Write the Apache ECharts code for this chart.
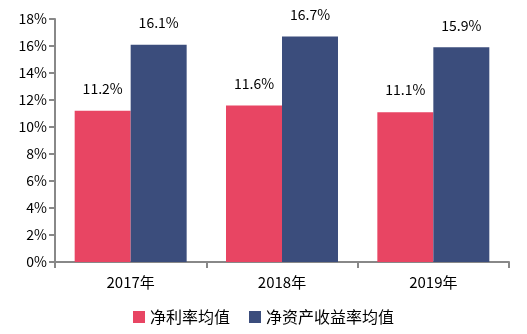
<!DOCTYPE html>
<html><head><meta charset="utf-8">
<script src="https://cdn.jsdelivr.net/npm/echarts@6/dist/echarts.min.js"></script>
<style>html,body{margin:0;padding:0;background:#fff}#c{width:527px;height:334px}</style>
</head><body><div id="c"></div>
<script>
var categories = ['2017年', '2018年', '2019年'];
var netMargin = [11.2, 11.6, 11.1];
var roe = [16.1, 16.7, 15.9];
var seriesNames = ['净利率均值', '净资产收益率均值'];

var font = '"Noto Sans CJK SC", "Noto Sans", sans-serif';
var chart = echarts.init(document.getElementById('c'));
var labelOpt = {show: true, position: 'top', distance: 15, color: '#000', fontSize: 14, fontFamily: font,
  formatter: function(p){ return p.value.toFixed(1) + '%'; }};
chart.setOption({
  animation: false,
  grid: {left: 55, right: 18, top: 19, bottom: 72},
  legend: {bottom: 4, itemWidth: 12, itemHeight: 12, itemGap: 19, icon: 'rect',
    textStyle: {fontSize: 16, color: '#000', fontFamily: font, padding: [0, 0, 0, 0]}},
  xAxis: {type: 'category', data: categories,
    axisLine: {lineStyle: {color: '#888', width: 2}},
    axisTick: {show: true, length: 6, lineStyle: {color: '#888', width: 2}},
    axisLabel: {color: '#000', fontSize: 15, fontFamily: font, margin: 13}},
  yAxis: {type: 'value', min: 0, max: 18, interval: 2,
    axisLine: {show: true, lineStyle: {color: '#888', width: 2}},
    axisTick: {show: true, length: 6, lineStyle: {color: '#888', width: 2}},
    splitLine: {show: false},
    axisLabel: {color: '#000', fontSize: 14, fontFamily: font, margin: 8, formatter: '{value}%'}},
  series: [
    {name: seriesNames[0], type: 'bar', data: netMargin, barGap: '0%', barCategoryGap: '26%',
     itemStyle: {color: '#E84563'}, label: labelOpt},
    {name: seriesNames[1], type: 'bar', data: roe,
     itemStyle: {color: '#3B4D7C'}, label: labelOpt}
  ]
});
</script></body></html>
